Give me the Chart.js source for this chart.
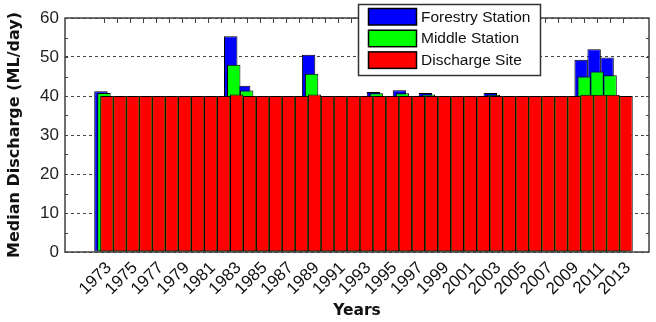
<!DOCTYPE html>
<html>
<head>
<meta charset="utf-8">
<script src="https://cdn.jsdelivr.net/npm/chart.js@4.4.1/dist/chart.umd.min.js"></script>
<style>
  html, body { margin: 0; padding: 0; background: #fff; }
  #wrap { width: 656px; height: 322px; }
</style>
</head>
<body>
<div id="wrap"><canvas id="chart"></canvas></div>
<script>
// Median discharge per year at three sites
const years = [1973, 1974, 1975, 1976, 1977, 1978, 1979, 1980, 1981, 1982,
               1983, 1984, 1985, 1986, 1987, 1988, 1989, 1990, 1991, 1992,
               1993, 1994, 1995, 1996, 1997, 1998, 1999, 2000, 2001, 2002,
               2003, 2004, 2005, 2006, 2007, 2008, 2009, 2010, 2011, 2012,
               2013];
const xTickLabels = [1973, 1975, 1977, 1979, 1981, 1983, 1985, 1987, 1989, 1991, 1993,
                     1995, 1997, 1999, 2001, 2003, 2005, 2007, 2009, 2011, 2013];
const yTicks = [0, 10, 20, 30, 40, 50, 60];

const forestry = [41.2, 40, 40, 40, 40, 40, 40, 40, 40, 40,
                  55.3, 42.6, 40, 40, 40, 40, 50.6, 40, 40, 40,
                  40, 41.0, 40, 41.5, 40, 40.8, 40, 40, 40, 40,
                  40.8, 40, 40, 40, 40, 40, 40, 49.3, 52.0, 49.9,
                  40];
const middle = [40.8, 40, 40, 40, 40, 40, 40, 40, 40, 40,
                48.0, 41.4, 40, 40, 40, 40, 45.7, 40, 40, 40,
                40, 40.7, 40, 40.7, 40, 40.4, 40, 40, 40, 40,
                40.3, 40, 40, 40, 40, 40, 40, 45.0, 46.3, 45.3,
                40];
const discharge = [40, 40, 40, 40, 40, 40, 40, 40, 40, 40,
                   40.4, 40, 40, 40, 40, 40, 40.4, 40, 40, 40,
                   40, 40, 40, 40, 40, 40, 40, 40, 40, 40,
                   40, 40, 40, 40, 40, 40, 40, 40.3, 40.3, 40.3,
                   40];

Chart.defaults.font.family = '"Liberation Sans", Arial, sans-serif';
Chart.defaults.color = '#111';

function series(label, values, color) {
    return {
        label,
        data: years.map((yr, i) => ({ x: yr, y: values[i] })),
        backgroundColor: color,
        borderColor: '#000',
        borderWidth: 1,
        borderSkipped: false,
        categoryPercentage: 0.69,
        barPercentage: 4.5
    };
}

// draw blue first, red last (default order is reversed)
const drawOrder = {
    id: 'drawOrder',
    beforeDatasetsDraw(chart) {
        for (let i = 0; i < chart.data.datasets.length; i++) {
            chart.getDatasetMeta(i).controller.draw();
        }
        return false;
    }
};

// box round the plot with small inward ticks
const frame = {
    id: 'frame',
    afterDraw(chart) {
        const { ctx, chartArea: a, scales: { x, y } } = chart;
        ctx.save();
        ctx.strokeStyle = '#404040';
        ctx.lineWidth = 1;
        ctx.beginPath();
        years.forEach(yr => {
            const px = Math.round(x.getPixelForValue(yr)) + 0.5;
            ctx.moveTo(px, a.top);
            ctx.lineTo(px, a.top + 5);
        });
        for (let v = 5; v < 60; v += 5) {
            const py = Math.round(y.getPixelForValue(v)) + 0.5;
            ctx.moveTo(a.left, py); ctx.lineTo(a.left + 3, py);
            ctx.moveTo(a.right, py); ctx.lineTo(a.right - 3, py);
        }
        ctx.stroke();
        ctx.lineWidth = 1.5;
        ctx.strokeRect(a.left, a.top, a.right - a.left, a.bottom - a.top);
        ctx.restore();
    }
};

// legend box inside the plot, top right
const boxLegend = {
    id: 'boxLegend',
    afterDraw(chart) {
        const ctx = chart.ctx;
        ctx.save();
        ctx.fillStyle = '#fff';
        ctx.fillRect(358.5, 4.5, 182, 71);
        ctx.strokeStyle = '#333';
        ctx.lineWidth = 1.5;
        ctx.strokeRect(358.5, 4.5, 182, 71);
        ctx.font = '15.5px "Liberation Sans", Arial, sans-serif';
        ctx.textBaseline = 'middle';
        chart.data.datasets.forEach((ds, i) => {
            const top = 8.5 + i * 21.7;
            ctx.fillStyle = ds.backgroundColor;
            ctx.fillRect(368.5, top, 48, 16.5);
            ctx.strokeStyle = '#000';
            ctx.lineWidth = 1.5;
            ctx.strokeRect(368.5, top, 48, 16.5);
            ctx.fillStyle = '#111';
            ctx.fillText(ds.label, 421, top + 9);
        });
        ctx.restore();
    }
};

new Chart(document.getElementById('chart'), {
    type: 'bar',
    data: {
        datasets: [
            series('Forestry Station', forestry, '#0000ff'),
            series('Middle Station', middle, '#00ff00'),
            series('Discharge Site', discharge, '#ff0000')
        ]
    },
    options: {
        responsive: true,
        maintainAspectRatio: false,
        animation: false,
        layout: { padding: { top: 18, right: 7, left: 0, bottom: 0 } },
        plugins: {
            legend: { display: false },
            tooltip: { enabled: false }
        },
        scales: {
            x: {
                type: 'linear',
                offset: false,
                min: 1970,
                max: 2015,
                afterBuildTicks: s => { s.ticks = xTickLabels.map(v => ({ value: v })); },
                afterFit: s => { s.height = 70; },
                grid: { drawOnChartArea: false, drawTicks: false, offset: false },
                border: { display: false },
                ticks: {
                    autoSkip: false,
                    minRotation: 45,
                    maxRotation: 45,
                    labelOffset: 5,
                    padding: 6,
                    color: '#111',
                    font: { size: 17 },
                    callback: v => String(v)
                },
                title: {
                    display: true,
                    text: 'Years',
                    color: '#111',
                    font: { family: '"DejaVu Sans"', size: 15.5, weight: 'bold' },
                    padding: { top: 0, bottom: 2 }
                }
            },
            y: {
                min: 0,
                max: 60,
                afterBuildTicks: s => { s.ticks = yTicks.map(v => ({ value: v })); },
                afterFit: s => { s.width = 65; },
                grid: { color: '#444', drawTicks: false },
                border: { display: false, dash: [3, 3] },
                ticks: {
                    padding: 6,
                    color: '#222',
                    font: { size: 17 }
                },
                title: {
                    display: true,
                    text: 'Median Discharge (ML/day)',
                    color: '#111',
                    font: { family: '"DejaVu Sans"', size: 16, weight: 'bold' },
                    padding: { top: 5, bottom: 0 }
                }
            }
        }
    },
    plugins: [drawOrder, frame, boxLegend]
});
</script>
</body>
</html>
